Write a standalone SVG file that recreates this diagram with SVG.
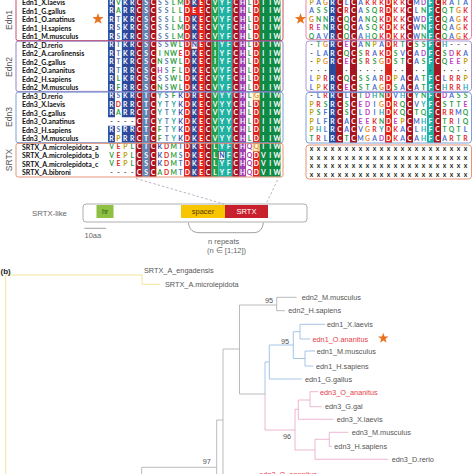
<svg xmlns="http://www.w3.org/2000/svg" width="474" height="474" viewBox="0 0 474 474">
<style>
.nm{font-family:Lato,"Liberation Sans",sans-serif;font-weight:700;font-size:7px;fill:#111}
.r{font-family:Lato,"Liberation Sans",sans-serif;font-weight:700;font-size:6.8px;text-anchor:middle;fill:#fff}
.g{fill:#2f9e44}.s{fill:#5577b0}.k{fill:#3050b0}.d{fill:#e02828}.h{fill:#a83cb0}.o{fill:#e8901e}.p{fill:#c0a000}.y{fill:#1aa59a}.n{fill:#444}
.a{fill:#e0282e}.m{fill:#c03cc0}.q{fill:#2fa04a}.b{fill:#4a6fd0}.c{fill:#1fa8b0}
.grp{font-family:"Liberation Sans",Arial,sans-serif;font-size:8.5px;fill:#555;text-anchor:middle}
.box{fill:none;stroke-width:0.9}
.tl{font-family:"Liberation Sans",Arial,sans-serif;font-size:7.3px;fill:#555}
.red{fill:#e8404a}
.t{fill:none;stroke-width:0.8}
.tg{stroke:#a9a9a9}.tb{stroke:#8fb8df}.tp{stroke:#e9a3c6}.ty{stroke:#f2dc82}
.lab{font-family:"Liberation Sans",Arial,sans-serif;fill:#666}
.dash{stroke:#a8a0b4;stroke-width:0.8;stroke-dasharray:2.5 2;fill:none}
.B{fill:#2b4a9e}.DR{fill:#a8141f}.RD{fill:#e3241b}
</style>
<defs>
<path id="star" d="M0,-6L1.411,-1.942L5.706,-1.854L2.283,0.742L3.527,4.854L0,2.4L-3.527,4.854L-2.283,0.742L-5.706,-1.854L-1.411,-1.942Z" fill="#e8731e"/>
</defs>
<rect width="474" height="474" fill="#fff"/>

<g id="alignment-left-bg">
<rect class="B" x="108.05" y="-1.75" width="6.9" height="119"/>
<rect class="B" x="108.05" y="125.75" width="6.9" height="17"/>
<rect class="B" x="121.85" y="-1.75" width="13.8" height="119"/>
<rect class="B" x="121.85" y="125.75" width="13.8" height="17"/>
<rect class="DR" x="135.65" y="-1.75" width="6.9" height="178.5"/>
<rect fill="#5b86b8" x="142.55" y="-1.75" width="6.9" height="178.5"/>
<rect class="DR" x="149.45" y="-1.75" width="6.9" height="178.5"/>
<rect class="RD" x="183.95" y="-1.75" width="20.7" height="178.5"/>
<rect class="B" x="190.85" y="-1.75" width="6.9" height="8.5"/>
<rect class="B" x="190.85" y="15.25" width="6.9" height="25.5"/>
<rect class="B" x="190.85" y="49.25" width="6.9" height="127.5"/>
<rect class="DR" x="204.65" y="-1.75" width="6.9" height="178.5"/>
<rect fill="#24a04e" x="211.55" y="-1.75" width="6.9" height="178.5"/>
<rect fill="#22b2a4" x="218.45" y="-1.75" width="13.8" height="178.5"/>
<rect class="DR" x="232.25" y="-1.75" width="6.9" height="178.5"/>
<rect fill="#9d3fae" x="239.15" y="-1.75" width="6.9" height="178.5"/>
<rect class="RD" x="252.95" y="-1.75" width="6.9" height="93.5"/>
<rect class="RD" x="252.95" y="100.25" width="6.9" height="42.5"/>
<rect class="RD" x="252.95" y="151.25" width="6.9" height="25.5"/>
<rect fill="#0e8a44" x="259.85" y="-1.75" width="20.7" height="178.5"/>
<rect x="191.1" y="41" width="6.4" height="8" fill="#fff" stroke="#333" stroke-width="0.5"/>
<rect x="218.7" y="151.5" width="6.4" height="8" fill="#fff" stroke="#333" stroke-width="0.5"/>
<rect x="253.2" y="92" width="6.4" height="8" fill="#fffbe8" stroke="#e8a020" stroke-width="0.6"/>
<rect x="253.2" y="143" width="6.4" height="8" fill="#fffbe8" stroke="#e8a020" stroke-width="0.6"/>
</g>

<g id="alignment-left-residues">
<text class="r" x="111.5 118.4 125.3 132.2 139.1 146 152.9 159.8 166.7 173.6 180.5 187.4 194.3 201.2 208.1 215 221.9 228.8 235.7 242.6 249.5 256.4 263.3 270.2 277.1" y="4.8">R<tspan class="g">V</tspan>KRCSC<tspan class="s">SS</tspan><tspan class="g">LM</tspan>DKECVYFCH<tspan class="g">L</tspan>DIIW</text>
<text class="r" x="111.5 118.4 125.3 132.2 139.1 146 152.9 159.8 166.7 173.6 180.5 187.4 194.3 201.2 208.1 215 221.9 228.8 235.7 242.6 249.5 256.4 263.3 270.2 277.1" y="13.3">R<tspan class="g">A</tspan>RRCSC<tspan class="s">SS</tspan><tspan class="g">LL</tspan>DEECVYFCH<tspan class="g">L</tspan>DIIW</text>
<text class="r" x="111.5 118.4 125.3 132.2 139.1 146 152.9 159.8 166.7 173.6 180.5 187.4 194.3 201.2 208.1 215 221.9 228.8 235.7 242.6 249.5 256.4 263.3 270.2 277.1" y="21.8">R<tspan class="s">T</tspan>KRCSC<tspan class="s">SS</tspan><tspan class="g">LL</tspan>DKECVYFCH<tspan class="g">L</tspan>DIIW</text>
<text class="r" x="111.5 118.4 125.3 132.2 139.1 146 152.9 159.8 166.7 173.6 180.5 187.4 194.3 201.2 208.1 215 221.9 228.8 235.7 242.6 249.5 256.4 263.3 270.2 277.1" y="30.3">R<tspan class="s">S</tspan>KRCSC<tspan class="s">SS</tspan><tspan class="g">LM</tspan>DKECVYFCH<tspan class="g">L</tspan>DIIW</text>
<text class="r" x="111.5 118.4 125.3 132.2 139.1 146 152.9 159.8 166.7 173.6 180.5 187.4 194.3 201.2 208.1 215 221.9 228.8 235.7 242.6 249.5 256.4 263.3 270.2 277.1" y="38.8">R<tspan class="s">S</tspan>KRCSC<tspan class="s">SS</tspan><tspan class="g">LM</tspan>DKECVYFCH<tspan class="g">L</tspan>DIIW</text>
<text class="r" x="111.5 118.4 125.3 132.2 139.1 146 152.9 159.8 166.7 173.6 180.5 187.4 194.3 201.2 208.1 215 221.9 228.8 235.7 242.6 249.5 256.4 263.3 270.2 277.1" y="47.3">R<tspan class="s">T</tspan>KRCSC<tspan class="s">SS</tspan><tspan class="g">WL</tspan>D<tspan class="k">N</tspan>ECIYFCH<tspan class="g">L</tspan>DIIW</text>
<text class="r" x="111.5 118.4 125.3 132.2 139.1 146 152.9 159.8 166.7 173.6 180.5 187.4 194.3 201.2 208.1 215 221.9 228.8 235.7 242.6 249.5 256.4 263.3 270.2 277.1" y="55.8">R<tspan class="s">T</tspan>KRCSC<tspan class="g">INW</tspan><tspan class="d">E</tspan>DKECIYFCH<tspan class="g">L</tspan>DIIW</text>
<text class="r" x="111.5 118.4 125.3 132.2 139.1 146 152.9 159.8 166.7 173.6 180.5 187.4 194.3 201.2 208.1 215 221.9 228.8 235.7 242.6 249.5 256.4 263.3 270.2 277.1" y="64.3">R<tspan class="s">T</tspan>KRCSC<tspan class="g">N</tspan><tspan class="s">S</tspan><tspan class="g">WL</tspan>DKECIYFCH<tspan class="g">L</tspan>DIIW</text>
<text class="r" x="111.5 118.4 125.3 132.2 139.1 146 152.9 159.8 166.7 173.6 180.5 187.4 194.3 201.2 208.1 215 221.9 228.8 235.7 242.6 249.5 256.4 263.3 270.2 277.1" y="72.8">R<tspan class="s">T</tspan>RRCSC<tspan class="h">H</tspan><tspan class="s">S</tspan><tspan class="g">FL</tspan>DKECVYFCH<tspan class="g">L</tspan>DIIW</text>
<text class="r" x="111.5 118.4 125.3 132.2 139.1 146 152.9 159.8 166.7 173.6 180.5 187.4 194.3 201.2 208.1 215 221.9 228.8 235.7 242.6 249.5 256.4 263.3 270.2 277.1" y="81.3">R<tspan class="g">L</tspan>KRCSC<tspan class="s">SS</tspan><tspan class="g">WL</tspan>DKECVYFCH<tspan class="g">L</tspan>DIIW</text>
<text class="r" x="111.5 118.4 125.3 132.2 139.1 146 152.9 159.8 166.7 173.6 180.5 187.4 194.3 201.2 208.1 215 221.9 228.8 235.7 242.6 249.5 256.4 263.3 270.2 277.1" y="89.8">R<tspan class="g">F</tspan>RRCSC<tspan class="g">N</tspan><tspan class="s">S</tspan><tspan class="g">WL</tspan>DKECVYFCH<tspan class="g">L</tspan>DIIW</text>
<text class="r" x="111.5 118.4 125.3 132.2 139.1 146 152.9 159.8 166.7 173.6 180.5 187.4 194.3 201.2 208.1 215 221.9 228.8 235.7 242.6 249.5 256.4 263.3 270.2 277.1" y="98.3">R<tspan class="s">S</tspan>KRCTC<tspan class="y">Y</tspan><tspan class="s">S</tspan><tspan class="g">F</tspan><tspan class="k">K</tspan>DRECVYYCH<tspan class="g">L</tspan><tspan class="o">G</tspan>IIW</text>
<text class="r" x="111.5 118.4 125.3 132.2 139.1 146 152.9 159.8 166.7 173.6 180.5 187.4 194.3 201.2 208.1 215 221.9 228.8 235.7 242.6 249.5 256.4 263.3 270.2 277.1" y="106.8">R<tspan class="d">D</tspan>RRCTC<tspan class="y">Y</tspan><tspan class="s">T</tspan><tspan class="y">Y</tspan><tspan class="k">K</tspan>DKECVYYCH<tspan class="g">L</tspan>DIIW</text>
<text class="r" x="111.5 118.4 125.3 132.2 139.1 146 152.9 159.8 166.7 173.6 180.5 187.4 194.3 201.2 208.1 215 221.9 228.8 235.7 242.6 249.5 256.4 263.3 270.2 277.1" y="115.3">R<tspan class="g">A</tspan>RRCTC<tspan class="y">Y</tspan><tspan class="s">T</tspan><tspan class="y">Y</tspan><tspan class="k">K</tspan>DKECVYYCH<tspan class="g">L</tspan>DIIW</text>
<text class="r" x="111.5 118.4 125.3 132.2 139.1 146 152.9 159.8 166.7 173.6 180.5 187.4 194.3 201.2 208.1 215 221.9 228.8 235.7 242.6 249.5 256.4 263.3 270.2 277.1" y="123.8"><tspan class="n">----</tspan>CTC<tspan class="y">Y</tspan><tspan class="s">T</tspan><tspan class="y">Y</tspan><tspan class="k">K</tspan>DKECVYYCH<tspan class="g">L</tspan>DIIW</text>
<text class="r" x="111.5 118.4 125.3 132.2 139.1 146 152.9 159.8 166.7 173.6 180.5 187.4 194.3 201.2 208.1 215 221.9 228.8 235.7 242.6 249.5 256.4 263.3 270.2 277.1" y="132.3">R<tspan class="s">S</tspan>RRCTC<tspan class="g">F</tspan><tspan class="s">T</tspan><tspan class="y">Y</tspan><tspan class="k">K</tspan>DKECVYYCH<tspan class="g">L</tspan>DIIW</text>
<text class="r" x="111.5 118.4 125.3 132.2 139.1 146 152.9 159.8 166.7 173.6 180.5 187.4 194.3 201.2 208.1 215 221.9 228.8 235.7 242.6 249.5 256.4 263.3 270.2 277.1" y="140.8">R<tspan class="p">P</tspan>RRCTC<tspan class="g">F</tspan><tspan class="s">T</tspan><tspan class="y">Y</tspan><tspan class="k">K</tspan>DKECVYYCH<tspan class="g">L</tspan>DIIW</text>
<text class="r" x="111.5 118.4 125.3 132.2 139.1 146 152.9 159.8 166.7 173.6 180.5 187.4 194.3 201.2 208.1 215 221.9 228.8 235.7 242.6 249.5 256.4 263.3 270.2 277.1" y="149.3"><tspan class="g">V</tspan><tspan class="d">E</tspan><tspan class="p">P</tspan><tspan class="g">L</tspan>CTC<tspan class="k">K</tspan><tspan class="d">D</tspan><tspan class="g">M</tspan><tspan class="s">T</tspan>DKECLYFCH<tspan class="h">Q</tspan><tspan class="o">Q</tspan>IIW</text>
<text class="r" x="111.5 118.4 125.3 132.2 139.1 146 152.9 159.8 166.7 173.6 180.5 187.4 194.3 201.2 208.1 215 221.9 228.8 235.7 242.6 249.5 256.4 263.3 270.2 277.1" y="157.8"><tspan class="g">V</tspan><tspan class="d">E</tspan><tspan class="p">P</tspan><tspan class="g">L</tspan>CSC<tspan class="k">K</tspan><tspan class="d">D</tspan><tspan class="g">M</tspan><tspan class="s">S</tspan>DKECL<tspan class="k">N</tspan>FCH<tspan class="h">Q</tspan>DVIW</text>
<text class="r" x="111.5 118.4 125.3 132.2 139.1 146 152.9 159.8 166.7 173.6 180.5 187.4 194.3 201.2 208.1 215 221.9 228.8 235.7 242.6 249.5 256.4 263.3 270.2 277.1" y="166.3"><tspan class="g">V</tspan><tspan class="d">E</tspan><tspan class="p">P</tspan><tspan class="g">L</tspan>CSC<tspan class="k">K</tspan><tspan class="d">D</tspan><tspan class="g">M</tspan><tspan class="s">T</tspan>DKECLYFCH<tspan class="h">Q</tspan>DVIW</text>
<text class="r" x="111.5 118.4 125.3 132.2 139.1 146 152.9 159.8 166.7 173.6 180.5 187.4 194.3 201.2 208.1 215 221.9 228.8 235.7 242.6 249.5 256.4 263.3 270.2 277.1" y="174.8"><tspan class="n">----</tspan>CSC<tspan class="g">A</tspan><tspan class="d">D</tspan><tspan class="g">M</tspan><tspan class="s">T</tspan>DKECLYFCH<tspan class="h">Q</tspan>DVIW</text>
</g>

<g id="names">
<text class="nm" x="22" y="5">Edn1_X.laevis</text>
<text class="nm" x="22" y="13.5">Edn1_G.gallus</text>
<text class="nm" x="22" y="22">Edn1_O.anatinus</text>
<text class="nm" x="22" y="30.5">Edn1_H.sapiens</text>
<text class="nm" x="22" y="39">Edn1_M.musculus</text>
<text class="nm" x="22" y="47.5">Edn2_D.rerio</text>
<text class="nm" x="22" y="56">Edn2_A.carolinensis</text>
<text class="nm" x="22" y="64.5">Edn2_G.gallus</text>
<text class="nm" x="22" y="73">Edn2_O.ananitus</text>
<text class="nm" x="22" y="81.5">Edn2_H.sapiens</text>
<text class="nm" x="22" y="90">Edn2_M.musculus</text>
<text class="nm" x="22" y="98.5">Edn3_D.rerio</text>
<text class="nm" x="22" y="107">Edn3_X.laevis</text>
<text class="nm" x="22" y="115.5">Edn3_G.gallus</text>
<text class="nm" x="22" y="124">Edn3_O.anatinus</text>
<text class="nm" x="22" y="132.5">Edn3_H.sapiens</text>
<text class="nm" x="22" y="141">Edn3_M.musculus</text>
<text class="nm" x="22" y="149.5">SRTX_A.microlepidota_a</text>
<text class="nm" x="22" y="158">SRTX_A.microlepidota_b</text>
<text class="nm" x="22" y="166.5">SRTX_A.microlepidota_c</text>
<text class="nm" x="22" y="175">SRTX_A.bibroni</text>
</g>

<g id="group-labels">
<text class="grp" transform="translate(12,20) rotate(-90)">Edn1</text>
<text class="grp" transform="translate(12,67) rotate(-90)">Edn2</text>
<text class="grp" transform="translate(12,117) rotate(-90)">Edn3</text>
<text class="grp" transform="translate(12,160) rotate(-90)">SRTX</text>
</g>

<g id="boxes-left">
<rect class="box" x="16" y="-4" width="267" height="44.6" rx="2" stroke="#c43a55"/>
<rect class="box" x="16" y="41.2" width="267" height="50.2" rx="2" stroke="#8c6fbf"/>
<rect class="box" x="16" y="92.2" width="267" height="50.4" rx="2" stroke="#6f95d2"/>
<rect class="box" x="16" y="143.4" width="267" height="33.6" rx="2" stroke="#e2896a"/>
</g>

<g id="alignment-right-bg">
<rect class="B" x="329" y="-1.75" width="7" height="144.5"/>
<rect class="DR" x="336" y="-1.75" width="7" height="144.5"/>
<rect class="DR" x="350" y="-1.75" width="7" height="144.5"/>
<rect class="RD" x="385" y="-1.75" width="7" height="144.5"/>
<rect class="DR" x="406" y="-1.75" width="7" height="144.5"/>
<rect fill="#22b2a4" x="427" y="-1.75" width="7" height="144.5"/>
<rect class="DR" x="434" y="-1.75" width="7" height="144.5"/>
</g>

<g id="alignment-right-residues">
<text class="r" x="311.5 318.5 325.5 332.5 339.5 346.5 353.5 360.5 367.5 374.5 381.5 388.5 395.5 402.5 409.5 416.5 423.5 430.5 437.5 444.5 451.5 458.5 465.5" y="4.8"><tspan class="p">P</tspan><tspan class="b">A</tspan><tspan class="o">G</tspan>RC<tspan class="b">L</tspan>C<tspan class="b">A</tspan><tspan class="a">KRK</tspan>D<tspan class="a">KK</tspan>C<tspan class="b">M</tspan><tspan class="m">D</tspan>FC<tspan class="a">R</tspan><tspan class="b">A</tspan><tspan class="q">T</tspan><tspan class="b">A</tspan></text>
<text class="r" x="311.5 318.5 325.5 332.5 339.5 346.5 353.5 360.5 367.5 374.5 381.5 388.5 395.5 402.5 409.5 416.5 423.5 430.5 437.5 444.5 451.5 458.5 465.5" y="13.3"><tspan class="b">A</tspan><tspan class="q">SS</tspan>RC<tspan class="a">R</tspan>C<tspan class="b">A</tspan><tspan class="q">SQ</tspan><tspan class="a">R</tspan>D<tspan class="a">KK</tspan>C<tspan class="b">L</tspan><tspan class="q">N</tspan>FC<tspan class="q">QT</tspan><tspan class="o">G</tspan><tspan class="a">K</tspan></text>
<text class="r" x="311.5 318.5 325.5 332.5 339.5 346.5 353.5 360.5 367.5 374.5 381.5 388.5 395.5 402.5 409.5 416.5 423.5 430.5 437.5 444.5 451.5 458.5 465.5" y="21.8"><tspan class="o">G</tspan><tspan class="q">NN</tspan>RC<tspan class="q">Q</tspan>C<tspan class="b">A</tspan><tspan class="q">NQ</tspan><tspan class="a">K</tspan>D<tspan class="a">KK</tspan>C<tspan class="b">W</tspan><tspan class="m">D</tspan>FC<tspan class="q">Q</tspan><tspan class="b">A</tspan><tspan class="o">G</tspan><tspan class="a">K</tspan></text>
<text class="r" x="311.5 318.5 325.5 332.5 339.5 346.5 353.5 360.5 367.5 374.5 381.5 388.5 395.5 402.5 409.5 416.5 423.5 430.5 437.5 444.5 451.5 458.5 465.5" y="30.3"><tspan class="a">R</tspan><tspan class="m">E</tspan><tspan class="q">N</tspan>RC<tspan class="q">Q</tspan>C<tspan class="b">A</tspan><tspan class="q">SQ</tspan><tspan class="a">K</tspan>D<tspan class="a">KK</tspan>C<tspan class="b">W</tspan><tspan class="q">N</tspan>FC<tspan class="q">Q</tspan><tspan class="b">A</tspan><tspan class="o">G</tspan><tspan class="a">K</tspan></text>
<text class="r" x="311.5 318.5 325.5 332.5 339.5 346.5 353.5 360.5 367.5 374.5 381.5 388.5 395.5 402.5 409.5 416.5 423.5 430.5 437.5 444.5 451.5 458.5 465.5" y="38.8"><tspan class="q">Q</tspan><tspan class="b">AV</tspan>RC<tspan class="q">Q</tspan>C<tspan class="b">A</tspan><tspan class="c">H</tspan><tspan class="q">Q</tspan><tspan class="a">K</tspan>D<tspan class="a">KK</tspan>C<tspan class="b">W</tspan><tspan class="q">N</tspan>FC<tspan class="q">Q</tspan><tspan class="b">A</tspan><tspan class="o">G</tspan><tspan class="a">K</tspan></text>
<text class="r" x="311.5 318.5 325.5 332.5 339.5 346.5 353.5 360.5 367.5 374.5 381.5 388.5 395.5 402.5 409.5 416.5 423.5 430.5 437.5 444.5 451.5 458.5 465.5" y="47.3"><tspan class="n">-</tspan><tspan class="q">T</tspan><tspan class="o">G</tspan>RC<tspan class="m">E</tspan>C<tspan class="b">A</tspan><tspan class="q">N</tspan><tspan class="p">P</tspan><tspan class="b">A</tspan>D<tspan class="a">R</tspan><tspan class="q">T</tspan>C<tspan class="q">SS</tspan>FC<tspan class="c">H</tspan><tspan class="n">---</tspan></text>
<text class="r" x="311.5 318.5 325.5 332.5 339.5 346.5 353.5 360.5 367.5 374.5 381.5 388.5 395.5 402.5 409.5 416.5 423.5 430.5 437.5 444.5 451.5 458.5 465.5" y="55.8"><tspan class="n">-</tspan><tspan class="b">LA</tspan>RC<tspan class="q">Q</tspan>C<tspan class="q">S</tspan><tspan class="a">R</tspan><tspan class="b">A</tspan><tspan class="a">K</tspan>D<tspan class="q">S</tspan><tspan class="b">V</tspan>C<tspan class="b">A</tspan><tspan class="m">D</tspan>FC<tspan class="q">S</tspan><tspan class="m">D</tspan><tspan class="a">K</tspan><tspan class="b">A</tspan></text>
<text class="r" x="311.5 318.5 325.5 332.5 339.5 346.5 353.5 360.5 367.5 374.5 381.5 388.5 395.5 402.5 409.5 416.5 423.5 430.5 437.5 444.5 451.5 458.5 465.5" y="64.3"><tspan class="n">-</tspan><tspan class="p">P</tspan><tspan class="o">G</tspan>RC<tspan class="m">E</tspan>C<tspan class="q">S</tspan><tspan class="a">R</tspan><tspan class="q">S</tspan><tspan class="o">G</tspan>D<tspan class="q">ST</tspan>C<tspan class="b">A</tspan><tspan class="q">S</tspan>FC<tspan class="q">Q</tspan><tspan class="m">EE</tspan><tspan class="p">P</tspan></text>
<text class="r n" x="311.5 318.5 325.5 332.5 339.5 346.5 353.5 360.5 367.5 374.5 381.5 388.5 395.5 402.5 409.5 416.5 423.5 430.5 437.5 444.5 451.5 458.5 465.5" y="72.8">·······················</text>
<text class="r" x="311.5 318.5 325.5 332.5 339.5 346.5 353.5 360.5 367.5 374.5 381.5 388.5 395.5 402.5 409.5 416.5 423.5 430.5 437.5 444.5 451.5 458.5 465.5" y="81.3"><tspan class="b">L</tspan><tspan class="p">P</tspan><tspan class="a">R</tspan>RC<tspan class="q">Q</tspan>C<tspan class="q">SS</tspan><tspan class="b">A</tspan><tspan class="a">R</tspan>D<tspan class="p">P</tspan><tspan class="b">A</tspan>C<tspan class="b">A</tspan><tspan class="q">T</tspan>FC<tspan class="b">L</tspan><tspan class="a">RR</tspan><tspan class="p">P</tspan></text>
<text class="r" x="311.5 318.5 325.5 332.5 339.5 346.5 353.5 360.5 367.5 374.5 381.5 388.5 395.5 402.5 409.5 416.5 423.5 430.5 437.5 444.5 451.5 458.5 465.5" y="89.8"><tspan class="b">L</tspan><tspan class="p">P</tspan><tspan class="a">K</tspan>RC<tspan class="m">E</tspan>C<tspan class="q">ST</tspan><tspan class="b">A</tspan><tspan class="o">G</tspan>D<tspan class="q">S</tspan><tspan class="b">A</tspan>C<tspan class="b">A</tspan><tspan class="q">T</tspan>FC<tspan class="c">H</tspan><tspan class="a">RR</tspan><tspan class="c">H</tspan></text>
<text class="r" x="311.5 318.5 325.5 332.5 339.5 346.5 353.5 360.5 367.5 374.5 381.5 388.5 395.5 402.5 409.5 416.5 423.5 430.5 437.5 444.5 451.5 458.5 465.5" y="98.3"><tspan class="n">-</tspan><tspan class="b">L</tspan><tspan class="a">R</tspan>RC<tspan class="b">L</tspan>C<tspan class="q">T</tspan><tspan class="m">D</tspan><tspan class="c">H</tspan><tspan class="q">N</tspan>D<tspan class="b">V</tspan><tspan class="c">H</tspan>C<tspan class="c">Y</tspan><tspan class="q">N</tspan>FC<tspan class="m">D</tspan><tspan class="b">A</tspan><tspan class="q">SS</tspan></text>
<text class="r" x="311.5 318.5 325.5 332.5 339.5 346.5 353.5 360.5 367.5 374.5 381.5 388.5 395.5 402.5 409.5 416.5 423.5 430.5 437.5 444.5 451.5 458.5 465.5" y="106.8"><tspan class="p">P</tspan><tspan class="a">R</tspan><tspan class="q">S</tspan>RC<tspan class="q">S</tspan>C<tspan class="m">ED</tspan><tspan class="b">I</tspan><tspan class="o">G</tspan>D<tspan class="a">R</tspan><tspan class="q">Q</tspan>C<tspan class="b">V</tspan><tspan class="c">Y</tspan>FC<tspan class="q">STT</tspan><tspan class="m">E</tspan></text>
<text class="r" x="311.5 318.5 325.5 332.5 339.5 346.5 353.5 360.5 367.5 374.5 381.5 388.5 395.5 402.5 409.5 416.5 423.5 430.5 437.5 444.5 451.5 458.5 465.5" y="115.3"><tspan class="p">P</tspan><tspan class="q">S</tspan><tspan class="b">F</tspan>RC<tspan class="q">S</tspan>C<tspan class="b">L</tspan><tspan class="m">D</tspan><tspan class="b">I</tspan><tspan class="c">H</tspan>D<tspan class="a">K</tspan><tspan class="q">Q</tspan>C<tspan class="q">TQ</tspan>FC<tspan class="a">RR</tspan><tspan class="b">M</tspan><tspan class="q">Q</tspan></text>
<text class="r" x="311.5 318.5 325.5 332.5 339.5 346.5 353.5 360.5 367.5 374.5 381.5 388.5 395.5 402.5 409.5 416.5 423.5 430.5 437.5 444.5 451.5 458.5 465.5" y="123.8"><tspan class="p">P</tspan><tspan class="b">LF</tspan>RC<tspan class="b">A</tspan>C<tspan class="m">EE</tspan><tspan class="a">K</tspan><tspan class="q">N</tspan>D<tspan class="m">E</tspan><tspan class="p">P</tspan>C<tspan class="b">M</tspan><tspan class="c">H</tspan>FC<tspan class="q">T</tspan><tspan class="a">R</tspan><tspan class="b">I</tspan><tspan class="q">Q</tspan></text>
<text class="r" x="311.5 318.5 325.5 332.5 339.5 346.5 353.5 360.5 367.5 374.5 381.5 388.5 395.5 402.5 409.5 416.5 423.5 430.5 437.5 444.5 451.5 458.5 465.5" y="132.3"><tspan class="p">P</tspan><tspan class="c">H</tspan><tspan class="b">L</tspan>RC<tspan class="b">A</tspan>C<tspan class="b">V</tspan><tspan class="o">G</tspan><tspan class="a">R</tspan><tspan class="c">Y</tspan>D<tspan class="a">K</tspan><tspan class="b">A</tspan>C<tspan class="b">L</tspan><tspan class="c">H</tspan>FC<tspan class="q">TQT</tspan><tspan class="b">L</tspan></text>
<text class="r" x="311.5 318.5 325.5 332.5 339.5 346.5 353.5 360.5 367.5 374.5 381.5 388.5 395.5 402.5 409.5 416.5 423.5 430.5 437.5 444.5 451.5 458.5 465.5" y="140.8"><tspan class="q">T</tspan><tspan class="a">R</tspan><tspan class="b">L</tspan>RC<tspan class="q">T</tspan>C<tspan class="b">M</tspan><tspan class="o">G</tspan><tspan class="b">A</tspan><tspan class="m">D</tspan>D<tspan class="a">K</tspan><tspan class="b">A</tspan>C<tspan class="b">A</tspan><tspan class="c">H</tspan>FC<tspan class="b">A</tspan><tspan class="a">R</tspan><tspan class="q">T</tspan><tspan class="a">R</tspan></text>
<text class="r" fill="#222" style="fill:#222" x="311.5 318.5 325.5 332.5 339.5 346.5 353.5 360.5 367.5 374.5 381.5 388.5 395.5 402.5 409.5 416.5 423.5 430.5 437.5 444.5 451.5 458.5 465.5" y="151">xxxxxxxxxxxxxxxxxxxxxxx</text>
<text class="r" style="fill:#222" x="311.5 318.5 325.5 332.5 339.5 346.5 353.5 360.5 367.5 374.5 381.5 388.5 395.5 402.5 409.5 416.5 423.5 430.5 437.5 444.5 451.5 458.5 465.5" y="159.5">xxxxxxxxxxxxxxxxxxxxxxx</text>
<text class="r" style="fill:#222" x="311.5 318.5 325.5 332.5 339.5 346.5 353.5 360.5 367.5 374.5 381.5 388.5 395.5 402.5 409.5 416.5 423.5 430.5 437.5 444.5 451.5 458.5 465.5" y="168">xxxxxxxxxxxxxxxxxxxxxxx</text>
<text class="r" style="fill:#222" x="311.5 318.5 325.5 332.5 339.5 346.5 353.5 360.5 367.5 374.5 381.5 388.5 395.5 402.5 409.5 416.5 423.5 430.5 437.5 444.5 451.5 458.5 465.5" y="176.5">xxxxxxxxxxxxxxxxxxxxxxx</text>
</g>

<g id="boxes-right">
<rect class="box" x="306" y="-4" width="165.5" height="43.4" rx="3" stroke="#e27a9c"/>
<rect class="box" x="306" y="41" width="165.5" height="50.3" rx="3" stroke="#a08ad0"/>
<rect class="box" x="306" y="92.5" width="165.5" height="50.5" rx="3" stroke="#6f95d2"/>
<rect class="box" x="306" y="145" width="165.5" height="34" rx="3" stroke="#e2896a"/>
</g>

<g id="stars">
<use href="#star" transform="translate(98,19)"/>
<use href="#star" transform="translate(300.5,19)"/>
</g>

<g id="connectors">
<path class="dash" d="M136,178.5L224,204"/>
<path class="dash" d="M277.5,180L266,204"/>
<path class="t ty" d="M5.7,476V275H142M142,275V284.3H160"/>
<path class="t tg" d="M141.7,476V467.3H216.7M216.7,476V420H223M223,476V349H239.5M239.5,394V305H276.7M285,310.7H276.7V297.3H296.7M239.5,394H265"/>
<path class="t tb" d="M265,394V362H269.3M301.7,379H269.3V345H293.3M300,331.7H293.3V358.5H305M325,324.3H300V339H310M315,351H305V366H313.3"/>
<path class="t tp" d="M265,394V430H295M298.3,409.3H295V450H315M310,400H298.3V419.3H333.3M318.3,391.7H310V406.7H321.7M329.3,439.3H315V459.3H388.3M348.3,432.3H329.3V446.5H331.7"/>
</g>

<g id="domain">
<text class="lab" x="32" y="215.8" font-size="7.8">SRTX-like</text>
<rect x="83" y="204" width="224" height="18" rx="3" fill="none" stroke="#999" stroke-width="0.8"/>
<g id="hr"><rect x="96.5" y="205" width="17" height="13" fill="#8dc043"/><text x="105" y="214" font-family="Liberation Sans,Arial,sans-serif" font-size="7" fill="#2a5a14" text-anchor="middle">hr</text></g>
<g id="spacer"><rect x="181" y="205" width="44" height="13" fill="#f7c600"/><text x="203" y="214" font-family="Liberation Sans,Arial,sans-serif" font-size="7.5" fill="#5a3a00" text-anchor="middle">spacer</text></g>
<g id="srtx"><rect x="225" y="205" width="43" height="13" fill="#c8202c"/><text x="246.5" y="214" font-family="Liberation Sans,Arial,sans-serif" font-size="7.5" fill="#fff" text-anchor="middle">SRTX</text></g>
<path d="M84.3,228.3H106" stroke="#888" stroke-width="0.8"/>
<text class="lab" x="84.5" y="237.5" font-size="7.5">10aa</text>
<path d="M188.3,222.7C189.5,230 193,232.7 200,232.7H253C259,232.7 262.5,230 263.3,222.7" fill="none" stroke="#888" stroke-width="0.8"/>
<text class="lab" x="208" y="243.7" font-size="7.5">n repeats</text>
<text class="lab" x="207" y="253.4" font-size="7.5">(n ∈ [1;12])</text>
</g>

<text x="0.5" y="274" font-family="Liberation Sans,Arial,sans-serif" font-size="8" font-weight="700" fill="#222">(b)</text>

<g id="tree-labels">
<g id="leaf-srtx-eng"><text class="tl" x="144" y="273.3">SRTX_A_engadensis</text></g>
<g id="leaf-srtx-mic"><text class="tl" x="165" y="286.9">SRTX_A.microlepidota</text></g>
<g id="leaf-edn2-mm"><text class="tl" x="301.7" y="299.9">edn2_M.musculus</text></g>
<g id="leaf-edn2-hs"><text class="tl" x="288.3" y="313.3">edn2_H.sapiens</text></g>
<g id="leaf-edn1-xl"><text class="tl" x="327" y="326.9">edn1_X.laevis</text></g>
<g id="leaf-edn1-oa"><text class="tl red" x="312.5" y="341.6">edn1_O.ananitus</text><use href="#star" transform="translate(383.3,338.3) scale(0.92)"/></g>
<g id="leaf-edn1-mm"><text class="tl" x="316.7" y="353.6">edn1_M.musculus</text></g>
<g id="leaf-edn1-hs"><text class="tl" x="316" y="368.6">edn1_H.sapiens</text></g>
<g id="leaf-edn1-gg"><text class="tl" x="305" y="381.6">edn1_G.gallus</text></g>
<g id="leaf-edn3-oa"><text class="tl red" x="320" y="394.6">edn3_O_ananitus</text></g>
<g id="leaf-edn3-gg"><text class="tl" x="325" y="409.3">edn3_G.gal</text></g>
<g id="leaf-edn3-xl"><text class="tl" x="336.7" y="421.9">edn3_X.laevis</text></g>
<g id="leaf-edn3-mm"><text class="tl" x="351.7" y="434.9">edn3_M.musculus</text></g>
<g id="leaf-edn3-hs"><text class="tl" x="334.3" y="449.1">edn3_H.sapiens</text></g>
<g id="leaf-edn3-dr"><text class="tl" x="391.7" y="461.9">edn3_D.rerio</text></g>
<g id="leaf-edn2-oa"><text class="tl red" x="259.3" y="477">edn2_O_ananitus</text></g>
<text class="tl" x="265" y="303.3">95</text>
<text class="tl" x="281" y="343.6">95</text>
<text class="tl" x="283" y="439.3">96</text>
<text class="tl" x="202.7" y="464.3">97</text>
</g>
</svg>
